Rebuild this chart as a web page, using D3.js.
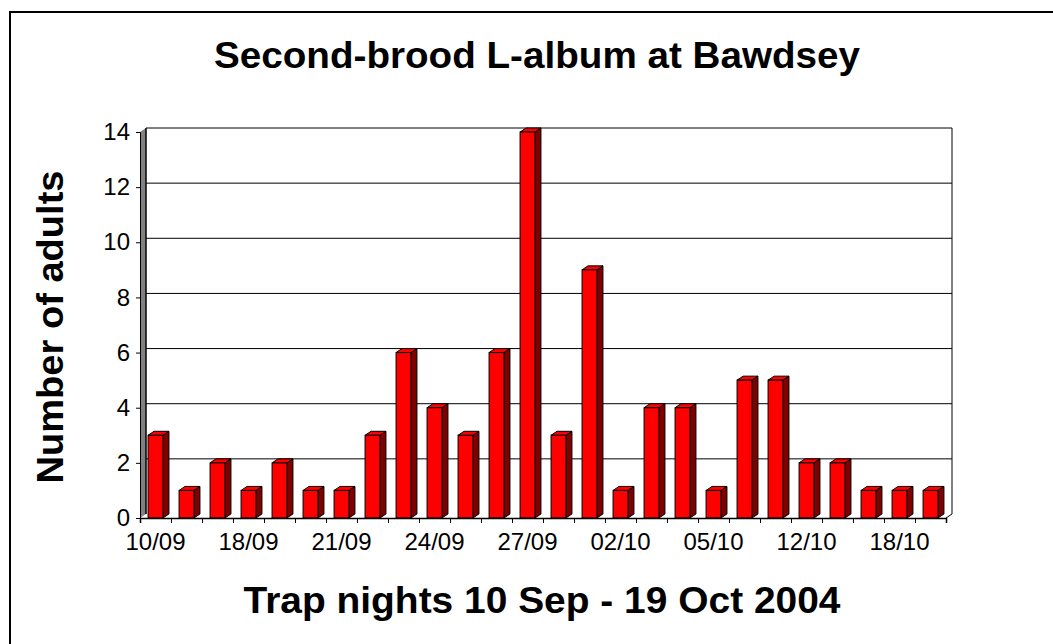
<!DOCTYPE html>
<html>
<head>
<meta charset="utf-8">
<script src="https://cdn.jsdelivr.net/npm/d3@7"></script>
<style>
  html, body { margin: 0; padding: 0; background: #fff; }
  svg { display: block; }
</style>
</head>
<body>
<svg id="chart" width="1053" height="644"></svg>
<script>
// ---- data ----
const titleText = "Second-brood L-album at Bawdsey";
const xTitle = "Trap nights 10 Sep - 19 Oct 2004";
const yTitle = "Number of adults";
const counts = [3, 1, 2, 1, 2, 1, 1, 3, 6, 4, 3, 6, 14, 3, 9, 1, 4, 4, 1, 5, 5, 2, 2, 1, 1, 1];
const tickLabels = ["10/09", "18/09", "21/09", "24/09", "27/09", "02/10", "05/10", "12/10", "18/10"];
const labelEvery = 3;
const yTicks = [0, 2, 4, 6, 8, 10, 12, 14];

// ---- layout ----
const svg = d3.select("#chart");
const front = { left: 140, right: 946, top: 132, bottom: 518 };
const depth = { dx: 6, dy: 4 };

const x = d3.scaleBand().domain(d3.range(counts.length)).range([front.left, front.right]);
const xb = d3.scaleLinear().domain([0, counts.length]).range([front.left, front.right]);
const y = d3.scaleLinear().domain([0, 14]).range([front.bottom, front.top]);

// outer frame
svg.append("rect").attr("x", 10).attr("y", 12).attr("width", 1100).attr("height", 700)
  .attr("fill", "none").attr("stroke", "#000").attr("stroke-width", 2);

// title
svg.append("text").attr("x", 537).attr("y", 68).attr("text-anchor", "middle")
  .attr("font-family", "Liberation Sans, Arial, sans-serif").attr("font-weight", "bold")
  .attr("font-size", 37).attr("textLength", 646).attr("lengthAdjust", "spacingAndGlyphs")
  .text(titleText);

// back wall gridlines
const g = svg.append("g");
g.selectAll("line.grid").data(yTicks.filter(d => d > 0)).join("line")
  .attr("class", "grid")
  .attr("x1", front.left + depth.dx).attr("x2", front.right + depth.dx)
  .attr("y1", d => y(d) - depth.dy).attr("y2", d => y(d) - depth.dy)
  .attr("stroke", "#000").attr("stroke-width", 1);
// right edge of back wall
g.append("line")
  .attr("x1", front.right + depth.dx).attr("x2", front.right + depth.dx)
  .attr("y1", y(14) - depth.dy).attr("y2", y(0) - depth.dy)
  .attr("stroke", "#000");
g.append("line")
  .attr("x1", front.right + depth.dx).attr("x2", front.right)
  .attr("y1", y(0) - depth.dy).attr("y2", y(0))
  .attr("stroke", "#000");

// left side wall
g.append("polygon")
  .attr("points", [
    [front.left, y(14)], [front.left + depth.dx, y(14) - depth.dy],
    [front.left + depth.dx, y(0) - depth.dy], [front.left, y(0)]
  ].map(p => p.join(",")).join(" "))
  .attr("fill", "#808080").attr("stroke", "none");
g.append("line")
  .attr("x1", front.left + depth.dx).attr("x2", front.left + depth.dx)
  .attr("y1", y(14) - depth.dy).attr("y2", y(0) - depth.dy)
  .attr("stroke", "#000").attr("stroke-width", 1.5);

// bars
const barW = x.bandwidth() * 0.48;
const bars = svg.append("g").selectAll("g").data(counts).join("g");
bars.each(function (v, i) {
  const sel = d3.select(this);
  const bx = x(i) + (x.bandwidth() - barW) / 2;
  const yt = y(v), yb = y(0);
  sel.append("polygon")
    .attr("points", [[bx + barW, yt], [bx + barW + depth.dx, yt - depth.dy],
      [bx + barW + depth.dx, yb - depth.dy], [bx + barW, yb]].map(p => p.join(",")).join(" "))
    .attr("fill", "#800000").attr("stroke", "#000").attr("stroke-width", 1);
  sel.append("polygon")
    .attr("points", [[bx, yt], [bx + depth.dx, yt - depth.dy],
      [bx + barW + depth.dx, yt - depth.dy], [bx + barW, yt]].map(p => p.join(",")).join(" "))
    .attr("fill", "#ff0000").attr("stroke", "#000").attr("stroke-width", 1);
  sel.append("rect")
    .attr("x", bx).attr("y", yt).attr("width", barW).attr("height", yb - yt)
    .attr("fill", "#ff0000").attr("stroke", "#000").attr("stroke-width", 1);
});

// y axis
const yAxis = svg.append("g").attr("transform", `translate(${front.left},0)`)
  .call(d3.axisLeft(y).tickValues(yTicks).tickSize(4).tickPadding(6));
yAxis.select(".domain").attr("stroke", "#000");
yAxis.selectAll("text").attr("font-family", "Liberation Sans, Arial, sans-serif")
  .attr("font-size", 24).attr("fill", "#000");

// x axis ticks at category boundaries
const xAxis = svg.append("g").attr("transform", `translate(0,${front.bottom})`)
  .call(d3.axisBottom(xb).tickValues(d3.range(0, counts.length + 1)).tickSize(5).tickFormat(""));
xAxis.select(".domain").attr("stroke", "#000").attr("stroke-width", 1.5);

// x tick labels
const labelIdx = tickLabels.map((_, k) => k * labelEvery);
const xLab = svg.append("g").attr("transform", `translate(0,${front.bottom})`)
  .call(d3.axisBottom(x).tickValues(labelIdx).tickSize(0).tickPadding(15)
    .tickFormat((d) => tickLabels[d / labelEvery]));
xLab.select(".domain").remove();
xLab.selectAll("text").attr("font-family", "Liberation Sans, Arial, sans-serif")
  .attr("font-size", 24).attr("fill", "#000");

// axis titles
svg.append("text").attr("x", 542).attr("y", 613).attr("text-anchor", "middle")
  .attr("font-family", "Liberation Sans, Arial, sans-serif").attr("font-weight", "bold")
  .attr("font-size", 37).attr("textLength", 597).attr("lengthAdjust", "spacingAndGlyphs")
  .text(xTitle);
svg.append("text").attr("transform", "translate(63,327) rotate(-90)").attr("text-anchor", "middle")
  .attr("font-family", "Liberation Sans, Arial, sans-serif").attr("font-weight", "bold")
  .attr("font-size", 37).attr("textLength", 313).attr("lengthAdjust", "spacingAndGlyphs")
  .text(yTitle);
</script>
</body>
</html>
